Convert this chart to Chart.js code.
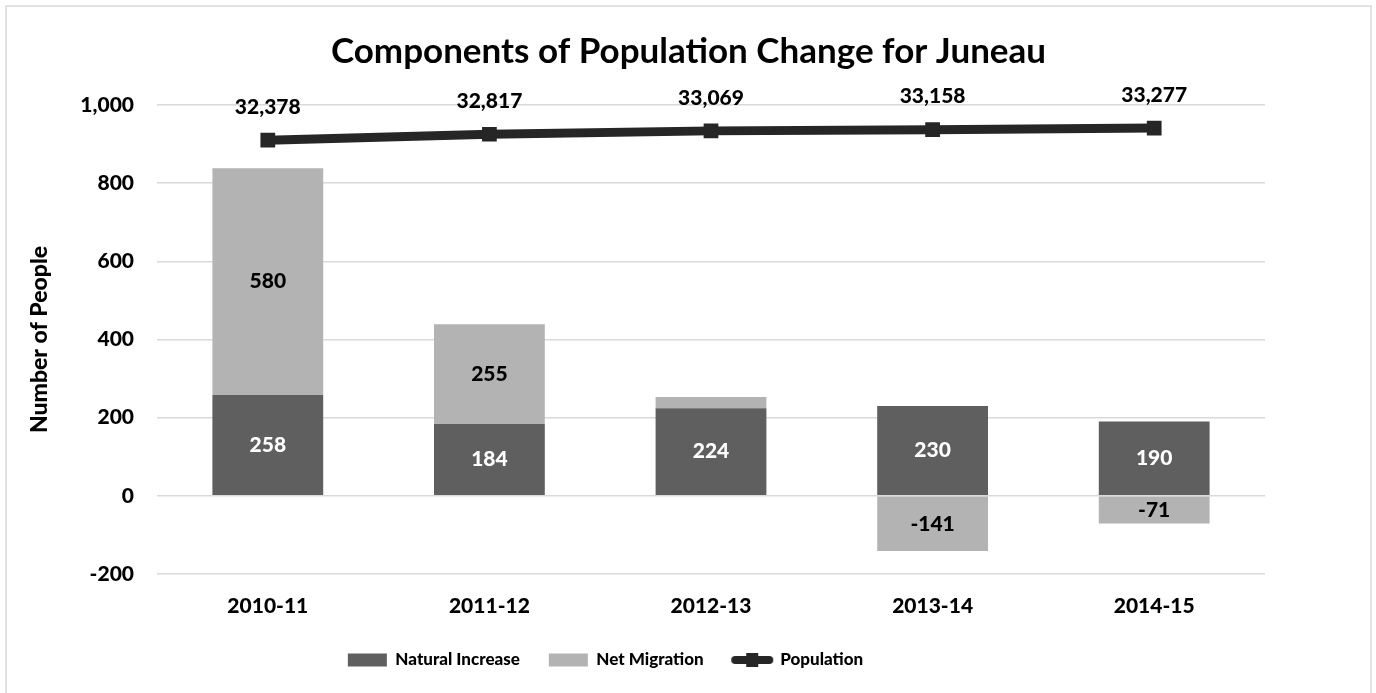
<!DOCTYPE html>
<html>
<head>
<meta charset="utf-8">
<title>Components of Population Change for Juneau</title>
<script src="https://cdn.jsdelivr.net/npm/chart.js@4.4.1/dist/chart.umd.min.js"></script>
<style>
  html, body { margin: 0; padding: 0; background: #fff; }
  #wrap { position: relative; width: 1376px; height: 693px; }
</style>
</head>
<body>
<div id="wrap"><canvas id="chart"></canvas></div>
<script>
// Data
const categories = ['2010-11', '2011-12', '2012-13', '2013-14', '2014-15'];
const naturalIncrease = [258, 184, 224, 230, 190];
const netMigration = [580, 255, 29, -141, -71];
const population = [32378, 32817, 33069, 33158, 33277];
const seriesNames = ['Natural Increase', 'Net Migration', 'Population'];

const FONT = 'Lato';
const WEIGHT = 900;
const darkGray = '#5f5f5f';
const lightGray = '#b3b3b3';
const lineColor = '#262626';

Chart.defaults.color = '#000';
Chart.defaults.font.family = FONT;
Chart.defaults.font.weight = WEIGHT;

// legend icon for the population line: thick line with a square marker
function makeLineIcon() {
  const c = document.createElement('canvas');
  c.width = 44;
  c.height = 16;
  const g = c.getContext('2d');
  g.strokeStyle = lineColor;
  g.lineWidth = 8;
  g.lineCap = 'round';
  g.beginPath();
  g.moveTo(5, 8);
  g.lineTo(39, 8);
  g.stroke();
  g.fillStyle = lineColor;
  g.fillRect(16, 1, 12, 14);
  return c;
}
const lineIcon = makeLineIcon();

// thin grey frame round the whole chart
const frame = {
  id: 'frame',
  beforeDraw(chart) {
    const ctx = chart.ctx;
    ctx.save();
    ctx.fillStyle = '#fff';
    ctx.fillRect(0, 0, chart.width, chart.height);
    ctx.strokeStyle = '#d9d9d9';
    ctx.lineWidth = 1.5;
    ctx.strokeRect(6, 6, chart.width - 11, chart.height + 10);
    ctx.restore();
  }
};

// value labels on the bars and above the population points
const valueLabels = {
  id: 'valueLabels',
  afterDatasetsDraw(chart) {
    const ctx = chart.ctx;
    ctx.save();
    ctx.textAlign = 'center';
    ctx.textBaseline = 'middle';
    ctx.font = WEIGHT + ' 21px ' + FONT;
    chart.data.datasets.forEach((ds, i) => {
      const meta = chart.getDatasetMeta(i);
      meta.data.forEach((el, j) => {
        const v = ds.data[j];
        if (ds.type === 'line') {
          ctx.fillStyle = '#000';
          ctx.fillText(v.toLocaleString('en-US'), el.x, el.y - 33);
        } else {
          const h = Math.abs(el.base - el.y);
          if (h < 24) return;
          ctx.fillStyle = i === 0 ? '#fff' : '#000';
          ctx.fillText(v.toLocaleString('en-US'), el.x, (el.y + el.base) / 2);
        }
      });
    });
    ctx.restore();
  }
};

// title is centred on the canvas, legend a bit left of it in the reference
const blockShift = {
  id: 'blockShift',
  afterLayout(chart) {
    chart.titleBlock.left += 46;
    chart.titleBlock.right += 46;
    chart.legend.left -= 37;
    chart.legend.right -= 37;
  }
};

const ctx = document.getElementById('chart').getContext('2d');
const chart = new Chart(ctx, {
  type: 'bar',
  data: {
    labels: categories,
    datasets: [
      {
        label: seriesNames[0],
        data: naturalIncrease,
        backgroundColor: darkGray,
        stack: 'comp',
        barPercentage: 0.5,
        categoryPercentage: 1
      },
      {
        label: seriesNames[1],
        data: netMigration,
        backgroundColor: lightGray,
        stack: 'comp',
        barPercentage: 0.5,
        categoryPercentage: 1
      },
      {
        type: 'line',
        label: seriesNames[2],
        data: population,
        yAxisID: 'y2',
        borderColor: lineColor,
        backgroundColor: lineColor,
        borderWidth: 9,
        pointStyle: 'rect',
        pointRadius: 9,
        pointBorderWidth: 2,
        pointBackgroundColor: lineColor,
        pointBorderColor: lineColor,
        tension: 0
      }
    ]
  },
  options: {
    responsive: true,
    maintainAspectRatio: false,
    animation: false,
    layout: {
      padding: { left: 20, right: 111, top: 0, bottom: 14.5 }
    },
    scales: {
      x: {
        stacked: true,
        grid: { display: false, drawTicks: false },
        border: { display: false },
        ticks: { padding: 20, font: { size: 21 }, color: '#000' },
        afterFit(scale) { scale.height = 48.5; }
      },
      y: {
        stacked: true,
        min: -200,
        max: 1000,
        grid: { color: '#d9d9d9', lineWidth: 1.5, drawTicks: false },
        border: { display: false },
        ticks: {
          stepSize: 200,
          padding: 23,
          font: { size: 21 },
          color: '#000',
          callback: (v) => v.toLocaleString('en-US')
        },
        title: {
          display: true,
          text: 'Number of People',
          font: { size: 23 },
          color: '#000',
          padding: { top: 6, bottom: 0 }
        },
        afterFit(scale) { scale.width = 137; }
      },
      y2: {
        display: false,
        min: 0,
        max: 35000
      }
    },
    plugins: {
      title: {
        display: true,
        text: 'Components of Population Change for Juneau',
        font: { size: 35 },
        color: '#000',
        padding: { top: 31, bottom: 32 }
      },
      legend: {
        position: 'bottom',
        labels: {
          usePointStyle: true,
          pointStyleWidth: 39,
          boxHeight: 13,
          padding: 29,
          color: '#000',
          font: { size: 17 },
          generateLabels(chart) {
            const items = Chart.defaults.plugins.legend.labels.generateLabels(chart);
            items.forEach((item) => {
              item.pointStyle = item.datasetIndex === 2 ? lineIcon : 'rect';
              item.lineWidth = 0;
            });
            return items;
          }
        }
      },
      tooltip: { enabled: false }
    }
  },
  plugins: [frame, valueLabels, blockShift]
});
</script>
</body>
</html>
